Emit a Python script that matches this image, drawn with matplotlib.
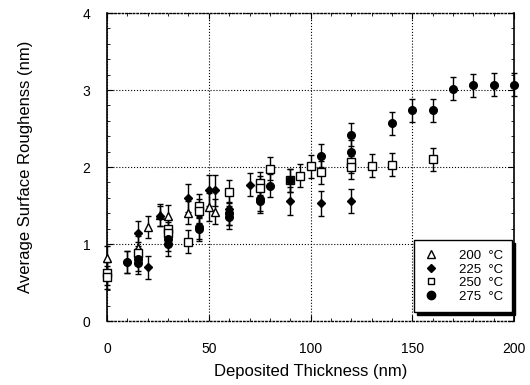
import numpy as np
import matplotlib.pyplot as plt
from matplotlib.lines import Line2D
from matplotlib.ticker import MultipleLocator

plt.rcParams['font.family'] = ['Liberation Sans', 'DejaVu Sans']

# 200 C - open triangles
x200 = [0, 15, 20, 26, 30, 40, 50, 53]
y200 = [0.82, 0.95, 1.22, 1.38, 1.36, 1.41, 1.48, 1.42]
e200 = [0.15, 0.15, 0.14, 0.14, 0.15, 0.15, 0.18, 0.16]

# 225 C - filled diamonds
x225 = [10, 15, 20, 26, 40, 50, 53, 60, 70, 90, 105, 120]
y225 = [0.77, 1.14, 0.70, 1.37, 1.60, 1.70, 1.70, 1.45, 1.77, 1.56, 1.53, 1.56]
e225 = [0.14, 0.16, 0.15, 0.13, 0.18, 0.20, 0.20, 0.20, 0.15, 0.18, 0.16, 0.16]

# 250 C - open squares
x250 = [0, 0, 15, 30, 30, 40, 45, 45, 60, 75, 75, 80, 90, 95, 100, 105, 120, 120, 130, 140, 160]
y250 = [0.62, 0.57, 0.88, 1.19, 1.14, 1.03, 1.50, 1.43, 1.68, 1.79, 1.73, 1.98, 1.83, 1.89,
        2.01, 1.93, 2.07, 2.00, 2.02, 2.03, 2.10]
e250 = [0.15, 0.15, 0.15, 0.15, 0.15, 0.15, 0.15, 0.15, 0.15, 0.15, 0.15, 0.15, 0.15, 0.15,
        0.15, 0.15, 0.15, 0.15, 0.15, 0.15, 0.15]

# 275 C - filled circles
x275 = [10, 15, 15, 30, 30, 45, 45, 60, 60, 75, 75, 80, 90, 105, 120, 120, 140, 150, 160,
        170, 180, 190, 200]
y275 = [0.77, 0.80, 0.76, 1.06, 1.00, 1.22, 1.19, 1.40, 1.35, 1.58, 1.56, 1.76, 1.83, 2.15,
        2.42, 2.20, 2.57, 2.74, 2.74, 3.02, 3.06, 3.07, 3.07]
e275 = [0.14, 0.15, 0.15, 0.15, 0.15, 0.15, 0.15, 0.15, 0.15, 0.15, 0.15, 0.15, 0.15, 0.15,
        0.15, 0.15, 0.15, 0.15, 0.15, 0.15, 0.15, 0.15, 0.15]

labels = ['200  \u00b0C', '225  \u00b0C', '250  \u00b0C', '275  \u00b0C']

fig = plt.figure(figsize=(5.3, 3.85), dpi=100)
ax = fig.add_axes([0.202, 0.166, 0.768, 0.800])

common = dict(ls='none', ecolor='black', elinewidth=1.0, capsize=2.5, capthick=1.0,
              markeredgecolor='black', markeredgewidth=1.0, clip_on=False, zorder=3)
ax.errorbar(x200, y200, yerr=e200, marker='^', ms=5.5, mfc='white', **common)
ax.errorbar(x225, y225, yerr=e225, marker='D', ms=4, mfc='black', **common)
ax.errorbar(x250, y250, yerr=e250, marker='s', ms=5.5, mfc='white', **common)
ax.errorbar(x275, y275, yerr=e275, marker='o', ms=5.5, mfc='black', **common)

ax.set_xlim(0, 200)
ax.set_ylim(0, 4)
ax.xaxis.set_major_locator(MultipleLocator(50))
ax.xaxis.set_minor_locator(MultipleLocator(10))
ax.yaxis.set_major_locator(MultipleLocator(1))
ax.yaxis.set_minor_locator(MultipleLocator(0.2))
ax.grid(True, which='major', ls=':', color='black', lw=0.8)
ax.tick_params(which='both', direction='in', top=True, right=True, labelsize=10)
ax.tick_params(axis='x', which='major', pad=15, length=4)
ax.tick_params(axis='y', which='major', pad=12, length=4)
ax.tick_params(which='minor', length=2.5)
for s in ['top', 'bottom']:
    ax.spines[s].set_linestyle(':')
    ax.spines[s].set_linewidth(1.0)
for s in ['left', 'right']:
    ax.spines[s].set_linewidth(1.2)

ax.set_xlabel('Deposited Thickness (nm)', fontsize=12, labelpad=6)
ax.set_ylabel('Average Surface Roughenss (nm)', fontsize=12, labelpad=36)

handles = [
    Line2D([], [], ls='none', marker='^', ms=5.5, mfc='white', mec='black'),
    Line2D([], [], ls='none', marker='D', ms=4, mfc='black', mec='black'),
    Line2D([], [], ls='none', marker='s', ms=5, mfc='white', mec='black'),
    Line2D([], [], ls='none', marker='o', ms=6, mfc='black', mec='black'),
]
leg = ax.legend(handles, labels, loc='lower right', bbox_to_anchor=(0.995, 0.03),
                fontsize=9.5, frameon=True, fancybox=False, shadow={'color': 'black', 'alpha': 1},
                handlelength=1.2, handletextpad=1.5, labelspacing=0.1,
                borderpad=0.7, borderaxespad=0)
leg.get_frame().set_edgecolor('black')
leg.get_frame().set_linewidth(1.0)
leg.set_zorder(5)

fig.savefig('out.png', dpi=100)
